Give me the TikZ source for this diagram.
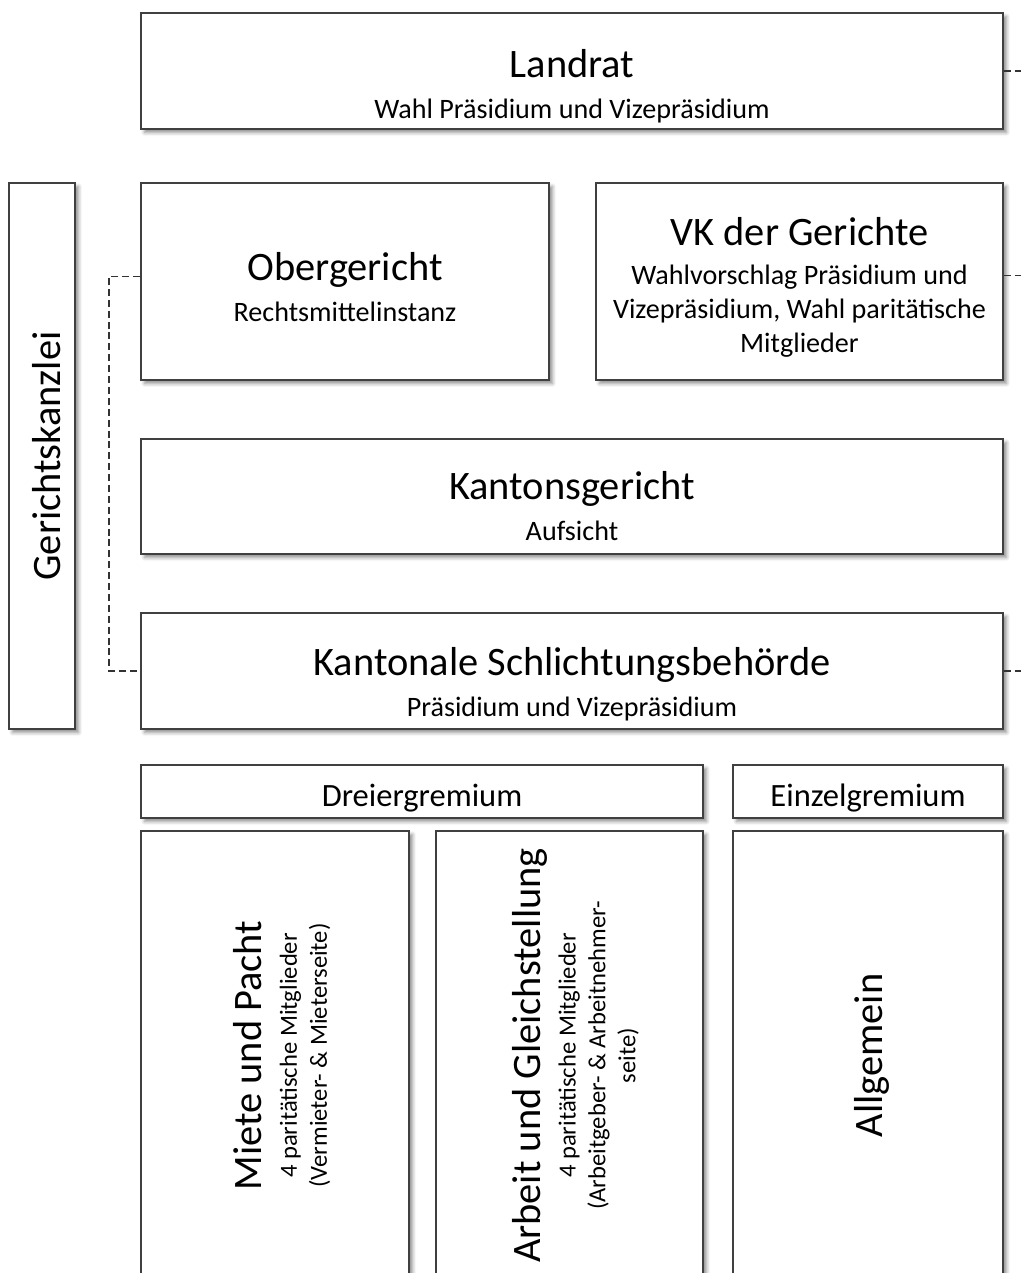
\documentclass[tikz,border=0pt]{standalone}
\usepackage{fontspec}
\setmainfont{Carlito}
\usetikzlibrary{shadows.blur,calc}
\newcommand\ttlf{\fontsize{23}{27}\selectfont}
\newcommand\subf{\fontsize{16}{19.3}\selectfont}
\newcommand\smf{\fontsize{14}{17}\selectfont}
\newcommand\grf{\fontsize{18.5}{22}\selectfont}
\tikzset{
  box/.style={draw=black!75, line width=0.9pt, fill=white,
    blur shadow={shadow xshift=2pt, shadow yshift=-2pt, shadow blur radius=2pt,
      shadow blur steps=6, shadow opacity=45}, inner sep=0pt},
  lbl/.style={align=center, font=\subf, text=black, inner sep=0pt},
  grlbl/.style={lbl, font=\grf, text height=13pt, text depth=4pt},
  link/.style={draw=black!80, line width=0.9pt, dash pattern=on 4pt off 2.2pt},
}
\begin{document}
\begin{tikzpicture}
\path[use as bounding box, clip] (0,0) rectangle (20.42,-25.46);
% boxes
\node[box, minimum width=17.24cm, minimum height=2.32cm] (landrat) at (11.44,-1.42) {};
\node[box, minimum width=1.32cm, minimum height=10.92cm] (kanzlei) at (0.84,-9.12) {};
\node[box, minimum width=8.16cm, minimum height=3.94cm] (oberg) at (6.90,-5.63) {};
\node[box, minimum width=8.14cm, minimum height=3.94cm] (vk) at (15.99,-5.63) {};
\node[box, minimum width=17.24cm, minimum height=2.30cm] (kantg) at (11.44,-9.93) {};
\node[box, minimum width=17.24cm, minimum height=2.32cm] (schl) at (11.44,-13.42) {};
\node[box, minimum width=11.24cm, minimum height=1.06cm] (dreier) at (8.44,-15.83) {};
\node[box, minimum width=5.40cm, minimum height=1.06cm] (einzel) at (17.36,-15.83) {};
\node[box, minimum width=5.36cm, minimum height=8.98cm] (miete) at (5.50,-21.11) {};
\node[box, minimum width=5.34cm, minimum height=8.98cm] (arbeit) at (11.39,-21.11) {};
\node[box, minimum width=5.40cm, minimum height=8.98cm] (allg) at (17.36,-21.11) {};
% texts
\node[lbl] (landrat-t) at ([yshift=-0.30cm]landrat.center)
  {{\ttlf Landrat}\\[4pt]Wahl Präsidium und Vizepräsidium};
\node[lbl, rotate=90, font=\ttlf] (kanzlei-t) at ([xshift=0.1cm]kanzlei.center) {Gerichtskanzlei};
\node[lbl] (oberg-t) at ([yshift=-0.12cm]oberg.center)
  {{\ttlf Obergericht}\\[4pt]Rechtsmittelinstanz};
\node[lbl] (vk-t) at ([yshift=-0.12cm]vk.center)
  {{\ttlf VK der Gerichte}\\[3pt]Wahlvorschlag Präsidium und\\Vizepräsidium, Wahl paritätische\\Mitglieder};
\node[lbl] (kantg-t) at ([yshift=-0.20cm]kantg.center)
  {{\ttlf Kantonsgericht}\\[4pt]Aufsicht};
\node[lbl] (schl-t) at ([yshift=-0.26cm]schl.center)
  {{\ttlf Kantonale Schlichtungsbehörde}\\[4pt]Präsidium und Vizepräsidium};
\node[grlbl] (dreier-t) at ([yshift=-0.14cm]dreier.center) {Dreiergremium};
\node[grlbl] (einzel-t) at ([yshift=-0.14cm]einzel.center) {Einzelgremium};
\node[lbl, rotate=90, font=\smf] (miete-t) at ([xshift=0.14cm]miete.center)
  {{\ttlf Miete und Pacht}\\[3pt]4 paritätische Mitglieder\\(Vermieter- \& Mieterseite)};
\node[lbl, rotate=90, font=\smf] (arbeit-t) at ([xshift=0.12cm]arbeit.center)
  {{\ttlf Arbeit und Gleichstellung}\\[3pt]4 paritätische Mitglieder\\(Arbeitgeber- \& Arbeitnehmer-\\seite)};
\node[lbl, rotate=90, font=\ttlf] (allg-t) at ([xshift=0.08cm]allg.center) {Allgemein};
% connectors
\coordinate (lx) at (2.18,0);
\coordinate (rx) at (21.0,0);
\draw[link] ([yshift=0.1cm]oberg.west) -- ([yshift=0.1cm]oberg.west -| lx) -- (schl.west -| lx) -- (schl.west);
\draw[link] (landrat.east) -- (landrat.east -| rx);
\draw[link] ([yshift=0.12cm]vk.east) -- ([yshift=0.12cm]vk.east -| rx);
\draw[link] (schl.east) -- (schl.east -| rx);
\end{tikzpicture}
\end{document}
